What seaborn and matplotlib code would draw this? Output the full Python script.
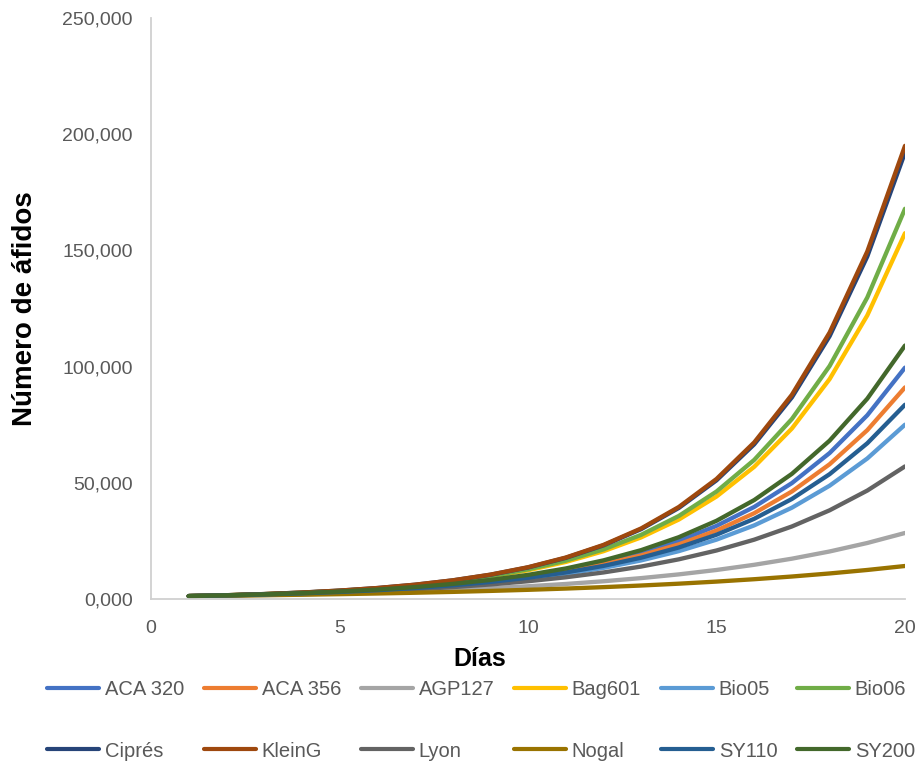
import matplotlib
matplotlib.use("Agg")
import matplotlib.pyplot as plt
from matplotlib.lines import Line2D
from matplotlib.ticker import FuncFormatter
import seaborn as sns
import pandas as pd

# Días de observación
dias = list(range(1, 21))

# Número de áfidos por variedad
aca_320 = [1250, 1574, 1982, 2495, 3142, 3956, 4981, 6271, 7896, 9942,
           12518, 15761, 19845, 24987, 31460, 39612, 49876, 62799, 79071, 99559]
aca_356 = [1250, 1567, 1963, 2460, 3083, 3864, 4842, 6068, 7605, 9530,
           11943, 14967, 18757, 23506, 29457, 36916, 46263, 57976, 72657, 91053]
agp127 = [1250, 1473, 1737, 2047, 2413, 2844, 3352, 3951, 4657, 5489,
          6470, 7626, 8989, 10595, 12488, 14719, 17349, 20449, 24103, 28410]
bag601 = [1250, 1612, 2080, 2682, 3460, 4462, 5756, 7424, 9576, 12351,
          15930, 20548, 26503, 34184, 44091, 56872, 73356, 94618, 122039, 157410]
bio05 = [1250, 1551, 1923, 2386, 2960, 3672, 4555, 5650, 7009, 8694,
         10785, 13378, 16596, 20587, 25538, 31678, 39296, 48747, 60470, 75011]
bio06 = [1250, 1618, 2094, 2710, 3507, 4539, 5874, 7603, 9840, 12735,
         16482, 21331, 27608, 35731, 46244, 59850, 77459, 100249, 129746, 167918]
cipres = [1250, 1629, 2124, 2768, 3608, 4703, 6130, 7990, 10414, 13574,
          17692, 23061, 30059, 39179, 51067, 66562, 86760, 113086, 147400, 192128]
kleing = [1250, 1631, 2127, 2775, 3620, 4722, 6160, 8035, 10481, 13673,
          17835, 23266, 30350, 39591, 51646, 67372, 87886, 114646, 149558, 195000]
lyon = [1250, 1528, 1869, 2285, 2794, 3417, 4178, 5108, 6246, 7637,
        9338, 11419, 13962, 17072, 20875, 25525, 31210, 38162, 46662, 57057]
nogal = [1250, 1421, 1614, 1835, 2085, 2369, 2693, 3060, 3478, 3952,
         4491, 5104, 5801, 6592, 7491, 8513, 9675, 10995, 12495, 14200]
sy110 = [1250, 1559, 1946, 2427, 3028, 3778, 4713, 5880, 7336, 9152,
         11417, 14243, 17770, 22170, 27658, 34506, 43048, 53707, 67004, 83591]
sy200 = [1250, 1581, 2001, 2531, 3203, 4052, 5126, 6485, 8205, 10381,
         13133, 16616, 21021, 26596, 33648, 42569, 53858, 68139, 86205, 109064]

variedades = ["ACA 320", "ACA 356", "AGP127", "Bag601", "Bio05", "Bio06",
              "Ciprés", "KleinG", "Lyon", "Nogal", "SY110", "SY200"]
valores = [aca_320, aca_356, agp127, bag601, bio05, bio06,
           cipres, kleing, lyon, nogal, sy110, sy200]
colores = ["#4472C4", "#ED7D31", "#A5A5A5", "#FFC000", "#5B9BD5", "#70AD47",
           "#264478", "#9E480E", "#636363", "#997300", "#255E91", "#43682B"]

filas = []
for nombre, serie in zip(variedades, valores):
    for d, v in zip(dias, serie):
        filas.append({"dia": d, "afidos": v, "variedad": nombre})
df = pd.DataFrame(filas)

sns.set_style("white")
plt.rcParams["font.family"] = ["Liberation Sans", "DejaVu Sans"]

fig, ax = plt.subplots(figsize=(9.16, 7.78), dpi=100)
fig.subplots_adjust(left=151 / 916, right=905 / 916, top=1 - 18 / 778, bottom=1 - 599 / 778)

sns.lineplot(data=df, x="dia", y="afidos", hue="variedad", hue_order=variedades,
             palette=colores, linewidth=3.1, solid_capstyle="round",
             solid_joinstyle="round", legend=False, ax=ax)

ax.set_xlim(0, 20)
ax.set_ylim(0, 250000)
ax.set_xticks(range(0, 21, 5))
ax.set_yticks(range(0, 250001, 50000))
ax.yaxis.set_major_formatter(FuncFormatter(lambda v, p: f"{int(round(v / 1000))},000"))

for lado in ["top", "right"]:
    ax.spines[lado].set_visible(False)
for lado in ["left", "bottom"]:
    ax.spines[lado].set_color("#D0D0D0")
    ax.spines[lado].set_linewidth(1.3)

ax.tick_params(axis="both", length=0, labelsize=14, colors="#595959")
ax.tick_params(axis="y", pad=13)
ax.tick_params(axis="x", pad=15)

ax.set_xlabel("Días", fontsize=18, fontweight="bold", color="black")
ax.set_ylabel("Número de áfidos", fontsize=20, fontweight="bold", color="black")
ax.xaxis.set_label_coords(0.436, -0.083)
ax.yaxis.set_label_coords(-0.150, 0.5)

# leyenda en dos filas (matplotlib llena por columnas, se reordena)
handles = [Line2D([], [], color=c, lw=3, solid_capstyle="round") for c in colores]
orden = []
for i in range(6):
    orden += [i, i + 6]
ax.legend([handles[i] for i in orden], [variedades[i] for i in orden],
          ncol=6, loc="upper left", mode="expand",
          bbox_to_anchor=(47 / 916, 1 - 688 / 778, 868 / 916, 0.01),
          bbox_transform=fig.transFigure, frameon=False, fontsize=14.5,
          handlelength=2.6, handletextpad=0.27, labelspacing=2.1,
          borderpad=0, borderaxespad=0, labelcolor="#595959")

plt.savefig("out.png", dpi=100)
